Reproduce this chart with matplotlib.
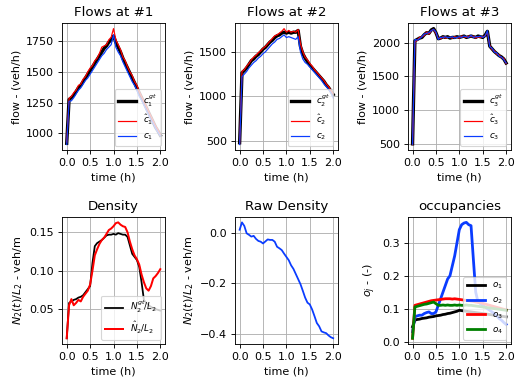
import numpy as np
import matplotlib
matplotlib.use("Agg")
import matplotlib.pyplot as plt

# time grid (h)
t = np.linspace(0, 2, 41)

# flows at #1
c1_gt = [920, 1275, 1290, 1310, 1340, 1370, 1390, 1420, 1450, 1480, 1510, 1540, 1570, 1600, 1630, 1660,
         1690, 1710, 1740, 1760, 1790, 1740, 1700, 1660, 1610, 1570, 1530, 1490, 1450, 1410, 1370, 1330,
         1290, 1250, 1210, 1170, 1130, 1090, 1050, 1020, 985]
c1_hat = [930, 1285, 1300, 1330, 1350, 1390, 1400, 1440, 1460, 1500, 1530, 1550, 1590, 1610, 1650, 1700,
          1710, 1720, 1760, 1780, 1850, 1760, 1720, 1680, 1620, 1590, 1540, 1500, 1470, 1420, 1390, 1340,
          1300, 1260, 1220, 1180, 1140, 1100, 1060, 1030, 990]
c1 = [910, 1260, 1265, 1290, 1320, 1350, 1370, 1400, 1430, 1450, 1480, 1510, 1540, 1570, 1600, 1630,
      1650, 1680, 1700, 1720, 1800, 1700, 1660, 1630, 1580, 1540, 1500, 1460, 1420, 1390, 1350, 1300,
      1270, 1230, 1190, 1150, 1110, 1080, 1040, 1010, 980]

# flows at #2
c2_gt = [480, 1265, 1290, 1320, 1360, 1400, 1420, 1450, 1470, 1500, 1530, 1550, 1580, 1610, 1630, 1660,
         1680, 1690, 1710, 1720, 1710, 1720, 1710, 1720, 1720, 1740, 1560, 1480, 1430, 1390, 1350, 1320,
         1290, 1260, 1230, 1200, 1170, 1130, 1100, 1060, 1020]
c2_hat = [470, 1280, 1300, 1340, 1370, 1410, 1440, 1460, 1490, 1510, 1540, 1560, 1590, 1620, 1650, 1680,
          1690, 1710, 1730, 1760, 1720, 1740, 1720, 1730, 1720, 1750, 1590, 1500, 1440, 1410, 1370, 1340,
          1300, 1270, 1240, 1210, 1180, 1140, 1110, 1070, 1030]
c2 = [460, 1220, 1250, 1280, 1320, 1350, 1380, 1400, 1430, 1450, 1480, 1500, 1530, 1560, 1590, 1610,
      1640, 1650, 1670, 1690, 1660, 1670, 1660, 1650, 1640, 1670, 1500, 1420, 1380, 1360, 1330, 1300,
      1270, 1240, 1210, 1180, 1140, 1110, 1080, 1040, 980]

# flows at #3
c3_gt = [500, 2030, 2050, 2070, 2080, 2120, 2150, 2140, 2190, 2210, 2150, 2060, 2070, 2090, 2080, 2090,
         2070, 2080, 2080, 2090, 2080, 2090, 2100, 2080, 2090, 2100, 2090, 2080, 2100, 2090, 2080, 2110,
         2170, 1950, 1910, 1870, 1840, 1810, 1790, 1760, 1700]
c3_hat = [490, 2010, 2040, 2080, 2090, 2110, 2160, 2130, 2180, 2200, 2140, 2070, 2060, 2090, 2070, 2080,
          2080, 2070, 2090, 2080, 2070, 2100, 2090, 2080, 2100, 2090, 2100, 2070, 2090, 2080, 2090, 2100,
          2160, 1960, 1900, 1880, 1830, 1820, 1780, 1770, 1690]
c3 = [495, 2050, 2040, 2060, 2090, 2130, 2140, 2150, 2180, 2200, 2160, 2050, 2080, 2080, 2090, 2080,
      2080, 2090, 2070, 2080, 2090, 2080, 2100, 2090, 2080, 2110, 2080, 2090, 2090, 2100, 2080, 2100,
      2180, 1940, 1920, 1860, 1850, 1800, 1790, 1750, 1700]

# density
dens_gt = [0.012, 0.058, 0.060, 0.062, 0.063, 0.065, 0.066, 0.068, 0.072, 0.076, 0.080, 0.110, 0.132,
           0.136, 0.138, 0.140, 0.143, 0.146, 0.147, 0.147, 0.148, 0.147, 0.149, 0.148, 0.147, 0.147,
           0.144, 0.133, 0.122, 0.118, 0.114, 0.105, 0.085, 0.062, 0.058, 0.055, 0.053, 0.051, 0.050,
           0.049, 0.048]
dens_hat = [0.012, 0.055, 0.063, 0.055, 0.058, 0.062, 0.060, 0.066, 0.070, 0.074, 0.082, 0.100, 0.120,
            0.128, 0.135, 0.140, 0.143, 0.148, 0.153, 0.155, 0.158, 0.162, 0.163, 0.160, 0.158, 0.157,
            0.150, 0.138, 0.128, 0.120, 0.115, 0.108, 0.095, 0.085, 0.077, 0.074, 0.080, 0.090, 0.093,
            0.097, 0.102]

# raw density
raw_dens = [0.011, 0.040, 0.026, -0.003, -0.009, -0.016, -0.013, -0.025, -0.033, -0.036, -0.043, -0.035,
            -0.027, -0.029, -0.029, -0.036, -0.056, -0.062, -0.069, -0.083, -0.096, -0.109, -0.129, -0.143,
            -0.163, -0.183, -0.203, -0.229, -0.256, -0.276, -0.283, -0.303, -0.329, -0.356, -0.369, -0.389,
            -0.393, -0.396, -0.405, -0.412, -0.416]

# occupancies
o1 = [0.045, 0.065, 0.067, 0.068, 0.070, 0.071, 0.072, 0.074, 0.075, 0.076, 0.078, 0.079, 0.080, 0.082,
      0.083, 0.085, 0.086, 0.088, 0.090, 0.092, 0.095, 0.094, 0.093, 0.092, 0.091, 0.090, 0.089, 0.088,
      0.087, 0.086, 0.085, 0.084, 0.083, 0.082, 0.081, 0.080, 0.079, 0.078, 0.077, 0.076, 0.075]
o2 = [0.030, 0.075, 0.078, 0.080, 0.080, 0.085, 0.088, 0.090, 0.085, 0.085, 0.090, 0.110, 0.130, 0.150,
      0.170, 0.190, 0.200, 0.230, 0.260, 0.300, 0.340, 0.355, 0.360, 0.362, 0.355, 0.352, 0.250, 0.150,
      0.120, 0.115, 0.110, 0.105, 0.100, 0.095, 0.090, 0.085, 0.078, 0.070, 0.065, 0.058, 0.052]
o3 = [0.010, 0.110, 0.112, 0.114, 0.116, 0.118, 0.120, 0.122, 0.124, 0.125, 0.126, 0.127, 0.128, 0.129,
      0.130, 0.130, 0.130, 0.129, 0.130, 0.129, 0.128, 0.127, 0.126, 0.125, 0.124, 0.123, 0.122, 0.120,
      0.119, 0.118, 0.116, 0.114, 0.112, 0.110, 0.108, 0.106, 0.104, 0.102, 0.100, 0.098, 0.096]
o4 = [0.010, 0.105, 0.107, 0.109, 0.111, 0.113, 0.114, 0.116, 0.118, 0.120, 0.115, 0.110, 0.110, 0.111,
      0.110, 0.111, 0.110, 0.110, 0.111, 0.110, 0.111, 0.110, 0.110, 0.111, 0.110, 0.110, 0.109, 0.108,
      0.107, 0.106, 0.105, 0.104, 0.103, 0.102, 0.101, 0.100, 0.099, 0.098, 0.097, 0.096, 0.095]

xticks = [0.0, 0.5, 1.0, 1.5, 2.0]
blue = '#0a3cff'

fig, axs = plt.subplots(2, 3, figsize=(517 / 80, 381 / 80), dpi=80)
plt.subplots_adjust(left=0.12, right=0.988, top=0.94, bottom=0.097, wspace=0.68, hspace=0.52)

flows = [(c1_gt, c1_hat, c1), (c2_gt, c2_hat, c2), (c3_gt, c3_hat, c3)]
for i, (gt, hat, meas) in enumerate(flows):
    ax = axs[0, i]
    k = i + 1
    ax.plot(t, gt, 'k', lw=3, label='$c_%d^{gt}$' % k)
    ax.plot(t, hat, 'r', lw=1.1, label='$\\hat{c}_%d$' % k)
    ax.plot(t, meas, color=blue, lw=1.1, label='$c_%d$' % k)
    ax.set_title('Flows at #%d' % k)
    ax.set_ylabel('flow - (veh/h)')
    ax.legend(loc='lower right', fontsize=8)

ax = axs[1, 0]
ax.plot(t, dens_gt, 'k', lw=1.6, label='$N_2^{gt}/L_2$')
ax.plot(t, dens_hat, 'r', lw=1.8, label='$\\hat{N}_2/L_2$')
ax.set_title('Density')
ax.set_ylabel('$N_2(t)/L_2$ - veh/m')
ax.legend(loc='lower right', fontsize=8)

ax = axs[1, 1]
ax.plot(t, raw_dens, color=blue, lw=1.6)
ax.set_title('Raw Density')
ax.set_ylabel('$N_2(t)/L_2$ - veh/m')

ax = axs[1, 2]
ax.plot(t, o1, 'k', lw=2.5, label='$o_1$')
ax.plot(t, o2, color=blue, lw=2.5, label='$o_2$')
ax.plot(t, o3, 'r', lw=2.5, label='$o_3$')
ax.plot(t, o4, 'g', lw=2.5, label='$o_4$')
ax.set_title('occupancies')
ax.set_ylabel('$o_j$ - (-)')
ax.legend(loc='lower right', fontsize=8)

for ax in axs.flat:
    ax.set_xticks(xticks)
    ax.set_xlabel('time (h)')
    ax.grid(True)

plt.savefig('out.png', dpi=80)
